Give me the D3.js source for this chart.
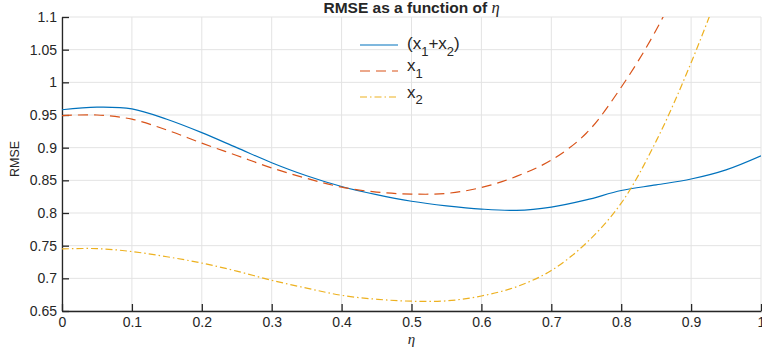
<!DOCTYPE html>
<html>
<head>
<meta charset="utf-8">
<script src="https://cdn.jsdelivr.net/npm/d3@7"></script>
<style>
  body { margin: 0; background: #fff; }
  text { font-family: "Liberation Sans", Arial, sans-serif; fill: #262626; }
</style>
</head>
<body>
<script>
// Data
var eta    = [0, 0.05, 0.1, 0.15, 0.2, 0.25, 0.3, 0.35, 0.4, 0.45, 0.5, 0.55, 0.6, 0.65, 0.7, 0.75, 0.8, 0.85, 0.9, 0.95, 1.0];
var sumX   = [0.958, 0.962, 0.9595, 0.9435, 0.923, 0.900, 0.877, 0.857, 0.8405, 0.828, 0.818, 0.811, 0.806, 0.804, 0.809, 0.820, 0.8344, 0.843, 0.852, 0.866, 0.8875];
var x1     = [0.949, 0.950, 0.9436, 0.927, 0.907, 0.888, 0.869, 0.853, 0.8396, 0.832, 0.829, 0.830, 0.839, 0.856, 0.881, 0.922, 0.9925, 1.080, 1.19, 1.32, 1.47];
var x2     = [0.745, 0.7455, 0.741, 0.733, 0.7234, 0.711, 0.697, 0.685, 0.674, 0.668, 0.665, 0.6655, 0.673, 0.687, 0.712, 0.754, 0.815, 0.910, 1.030, 1.17, 1.33];
var xTicks = [0, 0.1, 0.2, 0.3, 0.4, 0.5, 0.6, 0.7, 0.8, 0.9, 1];
var yTicks = [0.65, 0.7, 0.75, 0.8, 0.85, 0.9, 0.95, 1, 1.05, 1.1];

var series = [
  { name: "sum", values: sumX, color: "#0072BD", dash: null },
  { name: "x1",  values: x1,   color: "#D95319", dash: "10,6" },
  { name: "x2",  values: x2,   color: "#EDB120", dash: "7,3,1.5,3" }
];

var svgWidth = 762;
var svgHeight = 356;
var margin = { top: 17, right: 1, bottom: 45, left: 62 };
var width = svgWidth - margin.left - margin.right;
var height = svgHeight - margin.top - margin.bottom;

var svg = d3.select("body").append("svg")
  .attr("width", svgWidth)
  .attr("height", svgHeight);

svg.append("defs").append("clipPath").attr("id", "clip")
  .append("rect").attr("width", width).attr("height", height);

var g = svg.append("g")
  .attr("transform", `translate(${margin.left}, ${margin.top})`);

var x = d3.scaleLinear().domain([0, 1]).range([0, width]);
var y = d3.scaleLinear().domain([0.65, 1.1]).range([height, 0]);

// grid
g.append("g").selectAll("line").data(xTicks).enter().append("line")
  .attr("x1", d => x(d)).attr("x2", d => x(d))
  .attr("y1", 0).attr("y2", height)
  .attr("stroke", "#e3e3e3").attr("stroke-width", 1);
g.append("g").selectAll("line").data(yTicks).enter().append("line")
  .attr("x1", 0).attr("x2", width)
  .attr("y1", d => y(d)).attr("y2", d => y(d))
  .attr("stroke", "#e3e3e3").attr("stroke-width", 1);

// axes
var bottomAxis = d3.axisBottom(x).tickValues(xTicks).tickSizeInner(-7).tickSizeOuter(0)
  .tickPadding(6).tickFormat(d => d3.format("")(d));
var leftAxis = d3.axisLeft(y).tickValues(yTicks).tickSizeInner(-7).tickSizeOuter(0)
  .tickPadding(5).tickFormat(d => d3.format("")(+d.toFixed(2)));

var xa = g.append("g").attr("transform", `translate(0, ${height})`).call(bottomAxis);
var ya = g.append("g").call(leftAxis);
[xa, ya].forEach(function(a) {
  a.select(".domain").attr("stroke", "#262626").attr("stroke-width", 1.3);
  a.selectAll(".tick line").attr("stroke", "#262626").attr("stroke-width", 1.3);
  a.selectAll("text").attr("font-size", 14).attr("fill", "#262626")
    .style("font-family", "Liberation Sans, Arial, sans-serif");
});
xa.selectAll("text").attr("dy", "0.71em");

// lines
var line = d3.line()
  .x((d, i) => x(eta[i]))
  .y(d => y(d))
  .curve(d3.curveCatmullRom.alpha(0.5));

var lines = g.append("g").attr("clip-path", "url(#clip)");
series.forEach(function(s) {
  lines.append("path")
    .attr("d", line(s.values))
    .attr("fill", "none")
    .attr("stroke", s.color)
    .attr("stroke-width", 1.2)
    .attr("stroke-dasharray", s.dash);
});

// title and labels
var title = svg.append("text")
  .attr("x", margin.left + width / 2).attr("y", 13)
  .attr("text-anchor", "middle").attr("font-size", 15.5).attr("font-weight", "bold")
  .attr("fill", "#000");
title.append("tspan").text("RMSE as a function of ");
title.append("tspan").text("\u03B7")
  .style("font-family", "Liberation Serif, serif")
  .attr("font-style", "italic").attr("font-weight", "normal").attr("font-size", 16.5);

svg.append("text")
  .attr("transform", `translate(19, 159) rotate(-90)`)
  .attr("text-anchor", "middle").attr("font-size", 12.5)
  .text("RMSE");

svg.append("text")
  .attr("x", margin.left + width / 2).attr("y", 344)
  .attr("text-anchor", "middle").attr("font-size", 15)
  .attr("font-style", "italic")
  .style("font-family", "Liberation Serif, serif")
  .text("\u03B7");

// legend
var legendItems = [
  { s: series[0], parts: ["(x", "1", "+x", "2", ")"], base: 49 },
  { s: series[1], parts: ["x", "1"], base: 71 },
  { s: series[2], parts: ["x", "2"], base: 97.5 }
];
var legend = svg.append("g");
legendItems.forEach(function(item, i) {
  var ly = 45 + i * 26;
  legend.append("line")
    .attr("x1", 360).attr("x2", 398).attr("y1", ly).attr("y2", ly)
    .attr("stroke", item.s.color).attr("stroke-width", 1.2)
    .attr("stroke-dasharray", item.s.dash);
  var t = legend.append("text").attr("x", 407).attr("y", item.base).attr("font-size", 17);
  var shift = 0;
  item.parts.forEach(function(p, k) {
    var sub = k % 2 === 1;
    var target = sub ? 6.5 : 0;
    t.append("tspan").text(p)
      .attr("dy", target - shift)
      .attr("font-size", sub ? 13 : 17);
    shift = target;
  });
});
</script>
</body>
</html>
